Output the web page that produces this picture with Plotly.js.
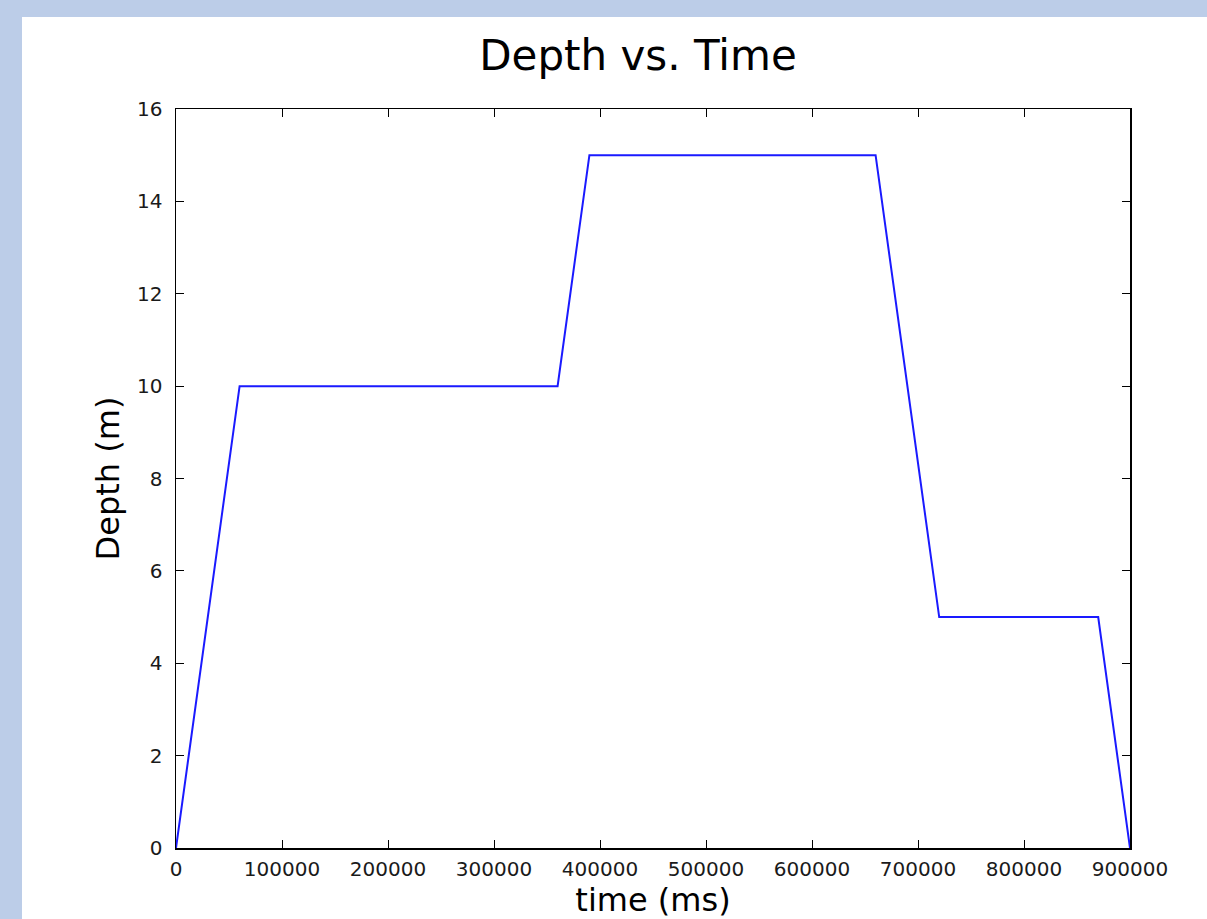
<!DOCTYPE html>
<html>
<head>
<meta charset="utf-8">
<script src="https://cdn.plot.ly/plotly-3.0.1.min.js"></script>
<style>
html, body { margin:0; padding:0; background:#bccde8; width:1207px; height:919px; overflow:hidden; }
#chart { position:absolute; left:22px; top:17px; width:1185px; height:902px; background:#ffffff; }
</style>
</head>
<body>
<div id="chart"></div>
<script>
const timeMs = [0, 60000, 360000, 390000, 660000, 720000, 870000, 900000];
const depthM = [0, 10, 10, 15, 15, 5, 5, 0];
const xTicks = [0, 100000, 200000, 300000, 400000, 500000, 600000, 700000, 800000, 900000];
const yTicks = [0, 2, 4, 6, 8, 10, 12, 14, 16];

const font = "DejaVu Sans, sans-serif";
const trace = {
  x: timeMs, y: depthM, type: 'scatter', mode: 'lines',
  line: {color: '#1a1aff', width: 2}, hoverinfo: 'skip'
};
const axisCommon = {
  showgrid: false, zeroline: false, showline: true, mirror: 'ticks',
  linecolor: '#000000', linewidth: 1.5, ticks: 'inside', ticklen: 8,
  tickwidth: 1, tickcolor: '#000000',
  tickfont: {family: font, size: 20, color: '#1a1a1a'}
};
const layout = {
  width: 1185, height: 902,
  paper_bgcolor: '#ffffff', plot_bgcolor: '#ffffff',
  margin: {l: 154, r: 77, t: 92, b: 71},
  showlegend: false,
  title: {text: 'Depth vs. Time', font: {family: font, size: 42, color: '#000000'},
          x: 616 / 1185, xanchor: 'center', y: 0.958, yanchor: 'middle'},
  xaxis: Object.assign({}, axisCommon, {
    range: [0, 900000], tickvals: xTicks, ticktext: xTicks.map(String),
    ticklabelstandoff: 2,
    title: {text: 'time (ms)', font: {family: font, size: 32, color: '#000000'}, standoff: 12}
  }),
  yaxis: Object.assign({}, axisCommon, {
    range: [0, 16], tickvals: yTicks, ticktext: yTicks.map(String),
    ticklabelstandoff: 8,
    title: {text: 'Depth (m)', font: {family: font, size: 32, color: '#000000'}, standoff: 8}
  })
};
Plotly.newPlot('chart', [trace], layout, {displayModeBar: false, staticPlot: true});
</script>
</body>
</html>
